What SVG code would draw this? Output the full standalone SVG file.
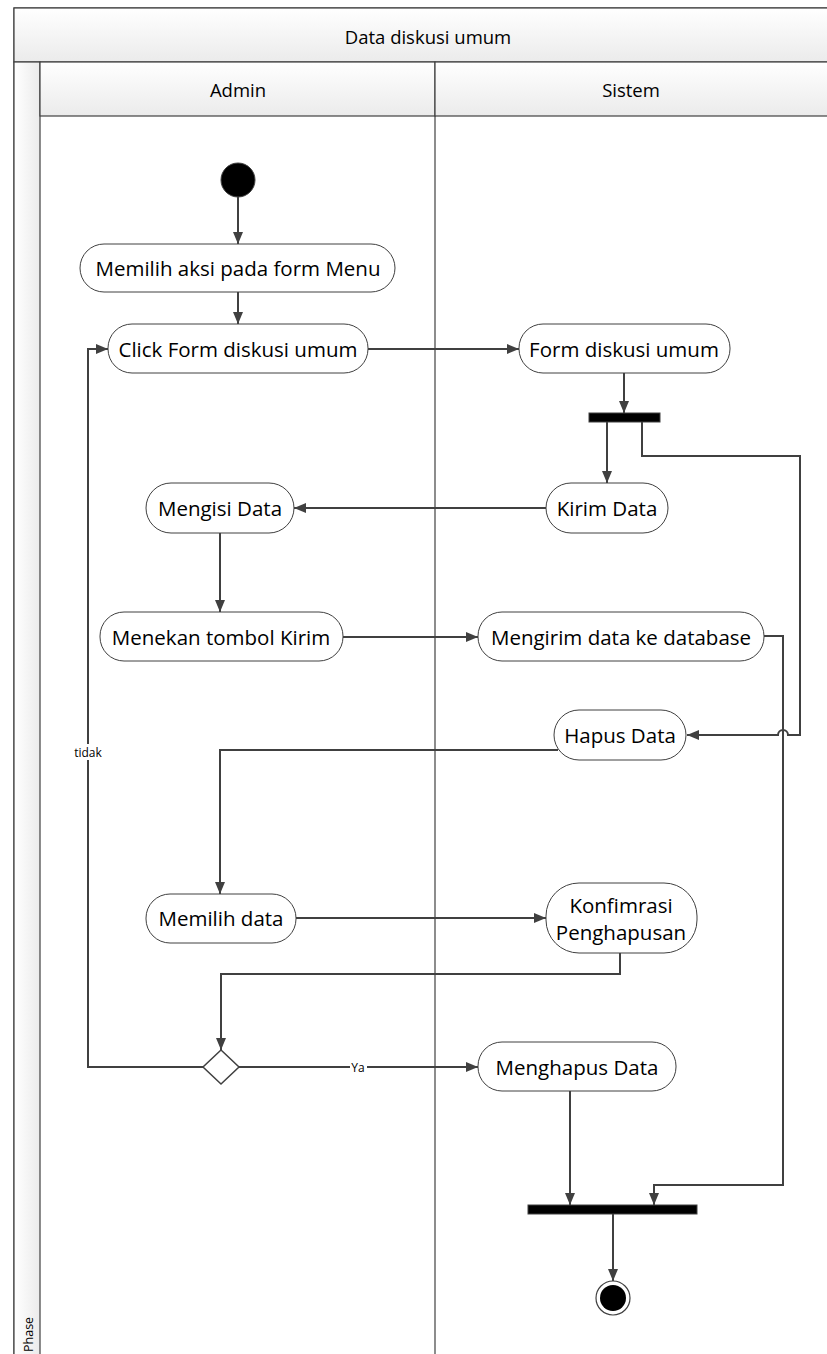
<svg xmlns="http://www.w3.org/2000/svg" width="827" height="1354" viewBox="0 0 827 1354">
<style>
.lane{fill:#ffffff;stroke:#404040;stroke-width:1.2}
.hdr{fill:url(#hg);stroke:#404040;stroke-width:1.2}
.node{fill:#ffffff;stroke:#404040;stroke-width:1}
.t{font-family:"Open Sans","Liberation Sans",sans-serif;font-size:20.5px;fill:#000;text-anchor:middle;dominant-baseline:central}
.h{font-family:"Open Sans","Liberation Sans",sans-serif;font-size:18.5px;fill:#000;text-anchor:middle;dominant-baseline:central}
.s{font-family:"Open Sans","Liberation Sans",sans-serif;font-size:12px;fill:#000;text-anchor:middle;dominant-baseline:central}
.e{fill:none;stroke:#404040;stroke-width:2}
.bar{fill:#000;stroke:#404040;stroke-width:1}
</style>
<defs>
<linearGradient id="hg" x1="0" y1="0" x2="0" y2="1">
<stop offset="0" stop-color="#ffffff"/>
<stop offset="1" stop-color="#ebebeb"/>
</linearGradient>
<linearGradient id="vg" x1="0" y1="0" x2="1" y2="0">
<stop offset="0" stop-color="#ffffff"/>
<stop offset="1" stop-color="#ebebeb"/>
</linearGradient>
<marker id="ar" viewBox="0 0 12 10" refX="12" refY="5" markerWidth="12" markerHeight="10" markerUnits="userSpaceOnUse" orient="auto">
<path d="M0,0 L12,5 L0,10 z" fill="#404040"/>
</marker>
</defs>
<g id="pool">
<rect x="14" y="8" width="820" height="1360" class="lane"/>
<rect x="14" y="8" width="820" height="54" class="hdr"/>
<text x="428" y="36" class="h">Data diskusi umum</text>
<rect x="14" y="62" width="26" height="1310" fill="url(#vg)" stroke="#404040" stroke-width="1.2"/>
<text transform="translate(28,1352) rotate(-90)" class="s" style="text-anchor:start;font-size:12.5px">Phase</text>
<rect x="40" y="62" width="395" height="54" class="hdr"/>
<rect x="435" y="62" width="399" height="54" class="hdr"/>
<text x="238" y="89" class="h">Admin</text>
<text x="631" y="89" class="h">Sistem</text>
<line x1="435" y1="116" x2="435" y2="1360" stroke="#404040" stroke-width="1.2"/>
</g>
<g id="connectors">
<path class="e" d="M238,197 V244" marker-end="url(#ar)"/>
<path class="e" d="M238,292 V324" marker-end="url(#ar)"/>
<path class="e" d="M368,349 H519" marker-end="url(#ar)"/>
<path class="e" d="M624,373 V413" marker-end="url(#ar)"/>
<path class="e" d="M607,422 V483" marker-end="url(#ar)"/>
<path class="e" d="M642,422 V456 H800 V735 H788 A5,5 0 0 0 778,735 H687" marker-end="url(#ar)"/>
<path class="e" d="M546,508 H294" marker-end="url(#ar)"/>
<path class="e" d="M220,533 V612" marker-end="url(#ar)"/>
<path class="e" d="M343,637 H478" marker-end="url(#ar)"/>
<path class="e" d="M764,636 H783 V1185 H654 V1205" marker-end="url(#ar)"/>
<path class="e" d="M558,750 H220 V894" marker-end="url(#ar)"/>
<path class="e" d="M296,918 H546" marker-end="url(#ar)"/>
<path class="e" d="M620,952 V974 H221 V1050" marker-end="url(#ar)"/>
<path class="e" d="M239,1067 H478" marker-end="url(#ar)"/>
<path class="e" d="M203,1067 H88 V349 H108" marker-end="url(#ar)"/>
<path class="e" d="M570,1091 V1205" marker-end="url(#ar)"/>
<path class="e" d="M613,1214 V1281" marker-end="url(#ar)"/>
<rect x="72" y="744" width="32" height="16" fill="#fff"/>
<text x="88" y="752" class="s">tidak</text>
<rect x="350" y="1059" width="17" height="16" fill="#fff"/>
<text x="358" y="1067" class="s">Ya</text>
</g>
<g id="start"><circle cx="238" cy="180" r="17" fill="#000" stroke="#404040" stroke-width="1"/></g>
<g id="n1"><rect class="node" x="80" y="244" width="315" height="48" rx="24"/><text class="t" x="238" y="268">Memilih aksi pada form Menu</text></g>
<g id="n2"><rect class="node" x="108" y="324" width="260" height="49" rx="24"/><text class="t" x="238" y="349">Click Form diskusi umum</text></g>
<g id="n3"><rect class="node" x="519" y="324" width="211" height="49" rx="24"/><text class="t" x="624" y="349">Form diskusi umum</text></g>
<g id="fork1"><rect class="bar" x="589" y="413" width="71" height="9"/></g>
<g id="n4"><rect class="node" x="546" y="483" width="122" height="50" rx="25"/><text class="t" x="607" y="508">Kirim Data</text></g>
<g id="n5"><rect class="node" x="146" y="483" width="148" height="50" rx="25"/><text class="t" x="220" y="508">Mengisi Data</text></g>
<g id="n6"><rect class="node" x="100" y="612" width="243" height="49" rx="24"/><text class="t" x="221" y="637">Menekan tombol Kirim</text></g>
<g id="n7"><rect class="node" x="478" y="612" width="286" height="49" rx="24"/><text class="t" x="621" y="637">Mengirim data ke database</text></g>
<g id="n8"><rect class="node" x="554" y="710" width="132" height="50" rx="25"/><text class="t" x="620" y="735">Hapus Data</text></g>
<g id="n9"><rect class="node" x="146" y="894" width="150" height="49" rx="24"/><text class="t" x="221" y="918">Memilih data</text></g>
<g id="n10"><rect class="node" x="546" y="883" width="151" height="70" rx="33"/><text class="t" x="621" y="905">Konfimrasi</text><text class="t" x="621" y="932">Penghapusan</text></g>
<g id="decision"><polygon points="221,1050 239,1067 221,1084 203,1067" fill="#fff" stroke="#404040" stroke-width="1.5"/></g>
<g id="n11"><rect class="node" x="478" y="1042" width="198" height="49" rx="24"/><text class="t" x="577" y="1067">Menghapus Data</text></g>
<g id="join"><rect class="bar" x="528" y="1205" width="169" height="9"/></g>
<g id="end"><circle cx="613" cy="1298" r="17" fill="#fff" stroke="#404040" stroke-width="1.2"/><circle cx="613" cy="1298" r="13" fill="#000"/></g>
</svg>
